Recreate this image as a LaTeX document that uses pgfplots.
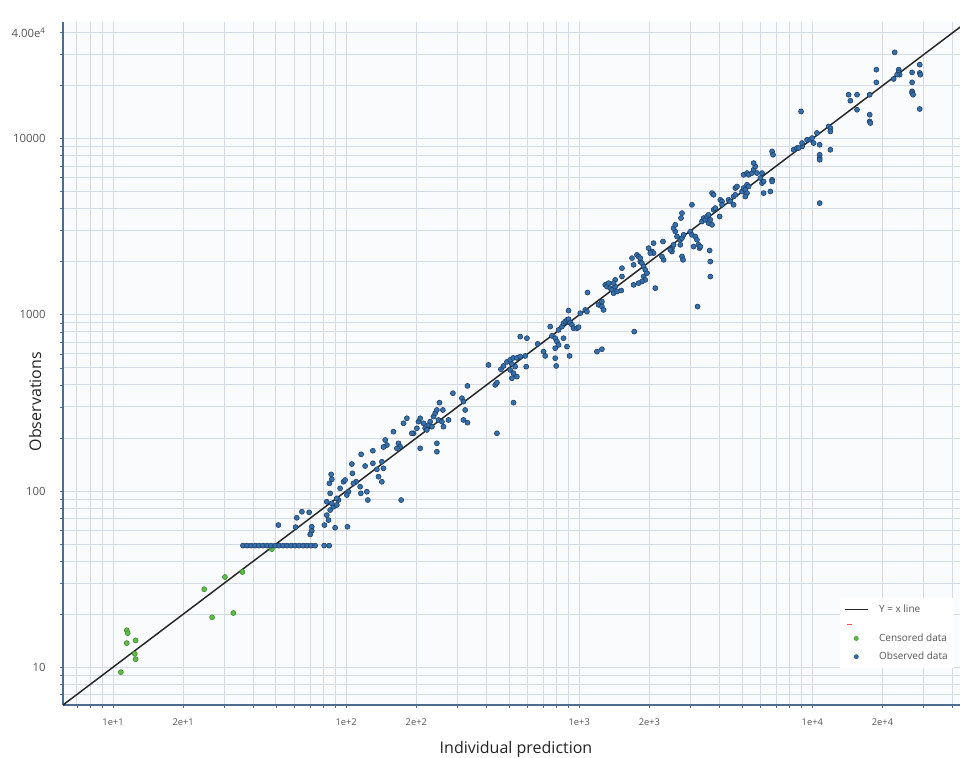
\documentclass[border=0pt]{standalone}
\usepackage{fontspec}
\setmainfont{Open Sans}
\usepackage{pgfplots}
\pgfplotsset{compat=1.18}
\definecolor{obsfill}{RGB}{52,112,172}
\definecolor{obsdraw}{RGB}{28,58,98}
\definecolor{cenfill}{RGB}{96,186,72}
\definecolor{cendraw}{RGB}{58,138,48}
\definecolor{gridcol}{RGB}{212,219,229}
\definecolor{bgcol}{RGB}{250,251,253}
\definecolor{axiscol}{RGB}{78,108,140}
\definecolor{tickcol}{RGB}{85,85,85}
\definecolor{labcol}{RGB}{35,35,35}
\begin{document}
\begin{tikzpicture}
\begin{axis}[
  scale only axis,
  width=672.75pt, height=512.25pt,
  xmode=log, ymode=log,
  xmin=6.1, xmax=43000, ymin=6.1, ymax=46000,
  axis lines=left,
  axis line style={-, draw=axiscol, line width=1.4pt},
  axis background/.style={fill=bgcol},
  xtick={10,20,100,200,1000,2000,10000,20000},
  xticklabels={1e+1,2e+1,1e+2,2e+2,1e+3,2e+3,1e+4,2e+4},
  ytick={10,100,1000,10000,40000},
  yticklabels={10,100,1000,10000,4.00e\textsuperscript{4}},
  minor xtick={7,8,9,30,40,50,60,70,80,90,300,400,500,600,700,800,900,3000,4000,5000,6000,7000,8000,9000,30000,40000},
  minor ytick={7,8,9,20,30,40,50,60,70,80,90,200,300,400,500,600,700,800,900,2000,3000,4000,5000,6000,7000,8000,9000,20000,30000},
  grid=both,
  major grid style={draw=gridcol, line width=0.75pt},
  minor grid style={draw=gridcol, line width=0.75pt},
  tick align=outside,
  major tick length=2.5pt, minor tick length=2pt,
  tick style={draw=axiscol, line width=0.6pt},
  xticklabel style={font=\fontsize{7}{8}\selectfont, text=tickcol, yshift=-4pt},
  yticklabel style={font=\fontsize{8.5}{9}\selectfont, text=tickcol, xshift=-7pt},
  every axis x label/.style={at={(axis description cs:0.505,0)}, anchor=base, yshift=-36.5pt},
  every axis y label/.style={at={(axis description cs:-0.031,0.444)}, rotate=90, anchor=center},
  xlabel={Individual prediction},
  ylabel={Observations},
  label style={font=\fontsize{12}{14}\selectfont, text=labcol},
  legend style={at={(rel axis cs:0.866,0.157)}, anchor=north west, draw=none, fill=white,
    font=\fontsize{7.5}{8}\selectfont, text=tickcol, row sep=2.5pt, inner sep=3pt,
    /tikz/every odd column/.append style={column sep=6pt}},
  legend cell align=left,
  clip=true,
]
\addlegendimage{black!85, line width=1.2pt}
\addlegendentry{Y = x line}
\addlegendimage{red!70, legend image code/.code={\draw[red!70, line width=0.5pt] (0.05cm,0cm) -- (0.18cm,0cm);}}
\addlegendentry{}
\addlegendimage{only marks, mark=*, mark size=1.6pt, mark options={fill=cenfill, draw=cendraw, line width=0.3pt}}
\addlegendentry{Censored data}
\addlegendimage{only marks, mark=*, mark size=1.6pt, mark options={fill=obsfill, draw=obsdraw, line width=0.3pt}}
\addlegendentry{Observed data}

% censored data
\addplot[forget plot, only marks, mark=*, mark size=1.9pt, mark options={fill=cenfill, draw=cendraw, line width=0.4pt}] coordinates {
(11.45,16.2) (11.56,15.6) (11.45,13.7) (12.5,14.2) (12.4,11.9) (12.5,11.1) (10.8,9.37)
(24.6,27.7) (26.6,19.2) (30.2,32.5) (32.8,20.3) (35.9,34.7) (48.0,46.8)
};

% observed data
\addplot[forget plot, only marks, mark=*, mark size=1.9pt, mark options={fill=obsfill, draw=obsdraw, line width=0.4pt}] coordinates {
(36.1,49) (37.6,49) (39.1,49) (40.7,49) (42.3,49) (44.0,49) (45.8,49) (47.6,49) (49.6,49) (51.6,49)
(53.7,49) (55.8,49) (58.1,49) (60.4,49) (62.8,49) (65.4,49) (68.0,49) (70.7,49) (73.6,49) (80.5,49) (84.6,49)
(51.2,64.1) (60.7,62.4) (61.4,70.5) (64.6,76.3) (69.4,75.7) (71.2,62.7) (71.2,59.5) (70.1,56.7)
(80.7,64.1) (84.0,68.4) (89.7,61.9) (101.3,62.7) (82.6,73.0) (85.4,78.0) (88.2,81.4) (91.2,83.3)
(82.6,86.9) (86.8,85.1) (92.7,88.9) (85.4,97.0) (91.2,90.9) (84.8,110.6) (86.8,116.6) (86.2,124.4)
(94.2,103.6) (97.4,112.9) (99.0,115.5) (102.3,99.1) (105.8,142.3) (106.4,126.0) (110.4,112.9)
(114.8,105.8) (115.6,97.0) (122.7,99.1) (123.9,88.9) (120.6,138.7) (130.2,143.7) (116.0,161.6)
(130.2,169.4) (135.4,132.8) (100.7,94.9) (107.5,110.6) (172.2,88.9)
(137.6,120.6) (142.3,112.9) (144.6,134.6) (142.3,146.7) (147.1,194.9) (149.6,182.5) (144.6,177.8)
(159.6,217.3) (167.7,186.6) (170.5,178.5) (165.1,174.8) (176.2,242.5) (182.2,258.9) (194.5,212.7)
(201.1,227.1) (204.3,247.6) (207.8,258.9) (207.8,174.8) (214.7,242.5) (218.3,227.1) (222.0,222.2)
(225.5,237.1) (229.4,247.6) (233.3,231.9) (237.0,264.4) (241.0,276.4) (245.1,288.5) (248.9,253.2)
(245.1,186.6) (245.1,167.2) (261.6,231.9) (257.5,247.6) (274.9,253.2) (251.4,317.5) (260.0,288.5)
(287.1,359.0) (313.8,336.3) (318.7,321.7) (324.1,288.5) (331.5,395.2) (318.7,253.2) (331.5,244.4)
(443.6,212.7) (191.4,212.7)
(408.0,519.8) (436.1,400.4) (443.6,412.5) (461.4,491.4) (473.4,513.1) (489.6,540.8) (505.5,555.0)
(520.7,569.7) (540.2,569.7) (558.2,579.5) (514.2,526.8) (531.2,508.4) (505.5,486.9) (522.4,466.4)
(514.2,436.9) (540.2,446.1) (522.4,317.5) (558.2,752.9) (596.4,737.3) (586.5,584.8) (592.2,508.4)
(663.5,684.2) (702.7,618.7) (714.6,584.8) (788.9,567.5) (796.7,513.1) (750.8,858.0) (763.5,759.9)
(788.9,737.3) (802.2,705.2) (815.1,675.3) (788.9,647.0) (856.2,737.3) (885.5,660.6) (908.6,584.8)
(815.1,821.9) (842.7,858.0) (856.2,897.1) (870.8,916.2) (885.5,936.8) (899.7,945.4) (914.9,904.3)
(930.4,877.4) (945.3,840.4) (977.5,840.4) (993.1,851.3) (899.7,1058) (1010,1022) (1061,1067)
(1079,1044) (1085,1339) (1191,618.7) (1251,638.6) (1210,1140) (1251,1115) (1271,1067) (1251,1190)
(1293,1481) (1315,1448) (1336,1514) (1358,1418) (1381,1387) (1404,1328) (1427,1581) (1427,1448)
(1404,1514) (1451,1357) (1525,1651) (1525,1842) (1514,1375)
(1684,2100) (1711,1924) (1711,1481) (1769,2192) (1797,2145) (1827,2008) (1858,1967) (1888,1882)
(1920,1802) (1888,1651) (1920,1581) (1858,1546) (1797,1514) (1953,1726) (1827,2100) (1722,803.6)
(1984,2393) (2051,2289) (2084,2242) (2084,2555) (2017,2242) (2120,1418) (2287,2609) (2301,2053)
(2264,2145) (2499,2393) (2539,2499) (2499,2289) (2458,2341) (2582,2973) (2626,2786) (2713,2668)
(2539,3109) (2582,3246) (2759,2728) (2713,2499) (2759,2145) (2787,2053) (2732,3543) (2759,3783)
(2803,2848) (3045,4217) (2995,2962) (3045,2848) (3147,2786) (3200,2668) (3251,2499) (3283,2393)
(3094,2444) (3306,2444) (3625,2319) (3650,2008) (3650,1651) (3218,1115) (3362,3389) (3416,3543)
(3474,3465) (3533,3618) (3589,3700) (3589,3319) (3712,3246) (3650,3465) (3771,3951) (3835,4040)
(3712,4914) (3771,4806) (4000,3618) (4028,4501) (4097,4402) (4097,4217) (4372,4501) (4447,4402)
(4594,4699) (4672,4806) (4672,5248) (4751,5358) (4594,4217) (4993,5018) (5072,5248) (5158,5131)
(5245,5478) (5329,5358) (5245,4914) (5158,4699) (5072,6244) (5245,6384) (5329,6244) (5511,6384)
(5600,6667) (5694,6960) (5600,7276) (5791,6384) (5983,5981) (6084,5602) (6180,5721) (6084,6384)
(6180,4914) (6605,5018) (6717,5848) (6717,5721) (6717,8469) (6783,8112)
(8312,8659) (8596,8855) (9033,9042) (9033,9454) (9491,9869) (8734,8855) (8944,14290) (9804,9869)
(9970,10090) (10130,9454) (10470,10780) (10750,9245) (10750,8112) (10750,7768) (10750,7599)
(11950,8659) (10750,4311) (11750,11750) (11950,11500) (11950,11000) (14310,17780) (14560,16440)
(15550,17780) (15550,14610) (17620,17780) (17620,13690) (17620,12540) (17740,12280) (18820,24660)
(18820,20890) (22560,30930) (22330,21840) (23470,24660) (23470,23800) (23690,23100) (23100,23100)
(26790,23800) (26790,20890) (26790,18570) (26790,18180) (27050,17780) (28880,26330) (28880,23620)
(29080,23100) (28880,14750)
};

% identity line
\addplot[forget plot, black!85, line width=1.1pt] coordinates {(6.1,6.1) (46000,46000)};

\coordinate (SW) at (rel axis cs:0,0);
\end{axis}
\pgfresetboundingbox
\path[use as bounding box] ([shift={(-47.25pt,-39pt)}]SW) rectangle ++(720pt,567.75pt);
\end{tikzpicture}
\end{document}
